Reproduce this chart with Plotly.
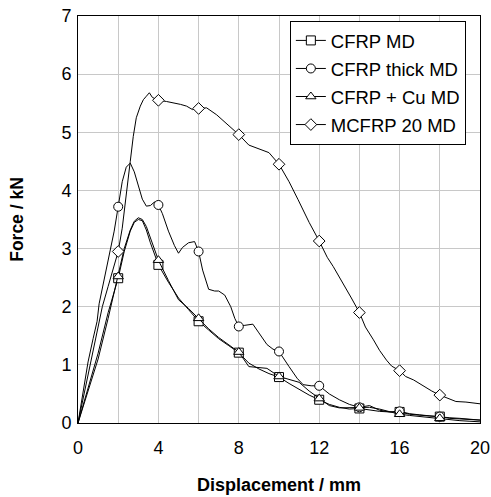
import plotly.graph_objects as go

# ---- data ----
series_names = ["CFRP MD", "CFRP thick MD", "CFRP + Cu MD", "MCFRP 20 MD"]
series_symbols = ["square-open", "circle-open", "triangle-up-open", "diamond-open"]
marker_x = [2, 4, 6, 8, 10, 12, 14, 16, 18]

cfrp_md_x = [0, 0.5, 1, 1.5, 2, 2.3, 2.6, 2.8, 3.0, 3.2, 3.4, 3.6, 3.8, 4, 4.5, 5, 5.5, 6, 6.5, 7, 7.5,
             8, 8.5, 9, 9.5, 10, 10.5, 11, 11.5, 12, 12.5, 13, 13.5, 14, 14.5, 15, 15.5, 16, 16.5, 17,
             17.5, 18, 18.5, 19, 19.5, 20]
cfrp_md_y = [0, 0.6, 1.2, 1.9, 2.49, 2.95, 3.3, 3.45, 3.5, 3.48, 3.32, 3.1, 2.92, 2.72, 2.42, 2.15, 1.95,
             1.75, 1.6, 1.45, 1.33, 1.21, 1.03, 0.93, 0.85, 0.79, 0.68, 0.58, 0.48, 0.4, 0.32, 0.27, 0.24,
             0.25, 0.22, 0.2, 0.19, 0.19, 0.15, 0.13, 0.12, 0.11, 0.08, 0.07, 0.06, 0.05]

thick_md_x = [0, 0.25, 0.5, 0.75, 0.95, 1.05, 1.3, 1.6, 1.8, 2, 2.2, 2.4, 2.6, 2.8, 3.0, 3.2, 3.4, 3.6,
              3.8, 4, 4.2, 4.5, 4.8, 5.0, 5.2, 5.5, 5.8, 6, 6.2, 6.5, 6.8, 7, 7.3, 7.6, 7.8, 8, 8.3, 8.7,
              9, 9.4, 9.7, 10, 10.5, 10.9, 11.2, 11.6, 12, 12.5, 13, 13.5, 14, 14.5, 15, 15.5, 16, 16.5,
              17, 17.5, 18, 18.5, 19, 19.5, 20]
thick_md_y = [0, 0.55, 1.05, 1.45, 1.75, 2.05, 2.45, 2.95, 3.3, 3.72, 4.15, 4.4, 4.47, 4.32, 4.1, 3.85,
              3.73, 3.74, 3.8, 3.75, 3.6, 3.3, 3.05, 2.92, 3.02, 3.1, 3.12, 2.95, 2.63, 2.3, 2.27, 2.27,
              2.2, 2.0, 1.8, 1.66, 1.68, 1.7, 1.55, 1.35, 1.27, 1.23, 0.97, 0.77, 0.66, 0.64, 0.64, 0.5,
              0.4, 0.32, 0.27, 0.3, 0.22, 0.19, 0.2, 0.16, 0.14, 0.12, 0.11, 0.09, 0.08, 0.06, 0.05]

cu_md_x = [0, 0.5, 1, 1.5, 2, 2.3, 2.6, 2.8, 3.0, 3.2, 3.4, 3.6, 3.8, 4, 4.5, 5, 5.5, 6, 6.5, 7, 7.5, 8,
           8.5, 9, 9.4, 10, 10.5, 11, 11.5, 12, 12.5, 13, 13.5, 14, 14.5, 15, 15.5, 16, 16.5, 17, 17.5,
           18, 18.5, 19, 19.5, 20]
cu_md_y = [0, 0.55, 1.1, 1.8, 2.52, 3.0, 3.32, 3.47, 3.53, 3.5, 3.38, 3.18, 3.0, 2.8, 2.45, 2.12, 1.97,
           1.8, 1.62, 1.47, 1.35, 1.22, 0.97, 0.95, 0.94, 0.8, 0.75, 0.7, 0.55, 0.42, 0.3, 0.26, 0.26,
           0.26, 0.27, 0.24, 0.2, 0.15, 0.13, 0.11, 0.1, 0.08, 0.06, 0.04, 0.03, 0.02]

mcfrp_md_x = [0, 0.3, 0.63, 0.9, 1.21, 1.5, 1.75, 2, 2.2, 2.35, 2.5, 2.6, 2.75, 2.9, 3.1, 3.25, 3.4, 3.55,
              3.7, 4, 4.4, 4.75, 5.1, 5.4, 5.7, 6, 6.4, 6.9, 7.4, 8, 8.5, 9, 9.5, 10, 10.5, 10.95, 11.5,
              12, 12.4, 12.7, 13.2, 13.6, 14, 14.3, 14.7, 15, 15.35, 15.6, 16, 16.3, 16.7, 17.2, 17.6,
              18, 18.4, 18.8, 19.3, 19.7, 20]
mcfrp_md_y = [0, 0.5, 1.0, 1.5, 2.0, 2.35, 2.65, 2.95, 3.35, 3.75, 4.2, 4.5, 4.93, 5.25, 5.45, 5.56, 5.62,
              5.68, 5.6, 5.55, 5.53, 5.51, 5.48, 5.45, 5.39, 5.41, 5.42, 5.3, 5.15, 4.96, 4.78, 4.72,
              4.65, 4.45, 4.15, 3.84, 3.45, 3.13, 2.85, 2.69, 2.4, 2.15, 1.9, 1.65, 1.43, 1.25, 1.08,
              0.98, 0.9, 0.8, 0.74, 0.63, 0.55, 0.48, 0.42, 0.37, 0.36, 0.35, 0.33]

x_tickvals = [0, 4, 8, 12, 16, 20]
y_tickvals = [0, 1, 2, 3, 4, 5, 6, 7]

all_x = [cfrp_md_x, thick_md_x, cu_md_x, mcfrp_md_x]
all_y = [cfrp_md_y, thick_md_y, cu_md_y, mcfrp_md_y]

FONT = "Arial, Liberation Sans, sans-serif"

fig = go.Figure()
for i, (name, sym, xs, ys) in enumerate(zip(series_names, series_symbols, all_x, all_y)):
    grp = "g%d" % i
    # curve
    fig.add_trace(go.Scatter(x=xs, y=ys, mode="lines", line=dict(color="black", width=1),
                             showlegend=False, hoverinfo="skip", legendgroup=grp))
    # markers at every 2 mm (points taken from the curve data)
    mx = [x for x in xs if x in marker_x]
    my = [y for x, y in zip(xs, ys) if x in marker_x]
    fig.add_trace(go.Scatter(x=mx, y=my, mode="markers",
                             marker=dict(symbol=sym.replace("-open", ""), size=9, color="white",
                                         line=dict(color="black", width=1)),
                             showlegend=False, legendgroup=grp))
    # legend entry
    fig.add_trace(go.Scatter(x=[None], y=[None], mode="lines+markers", name=name,
                             legendgroup=grp,
                             line=dict(color="black", width=1),
                             marker=dict(symbol=sym.replace("-open", ""), size=9, color="white",
                                         line=dict(color="black", width=1))))

fig.update_layout(
    width=491, height=497,
    margin=dict(l=78, r=11, t=16, b=74),
    paper_bgcolor="white", plot_bgcolor="white",
    font=dict(family=FONT, size=17.5, color="black"),
    legend=dict(x=0.527, y=0.988, xanchor="left", yanchor="top",
                bgcolor="white", bordercolor="black", borderwidth=1,
                traceorder="grouped", tracegroupgap=1,
                font=dict(family=FONT, size=18.5, color="black")),
    xaxis=dict(range=[0, 20], tickvals=x_tickvals,
               showgrid=True, gridcolor="#c8c8c8", gridwidth=1,
               showline=True, linecolor="black", linewidth=1, mirror=True,
               zeroline=False, ticks="", ticklabelstandoff=8, automargin=False,
               tickfont=dict(size=18),
               title=dict(text="<b>Displacement / mm</b>", font=dict(size=18), standoff=21)),
    yaxis=dict(range=[0, 7], tickvals=y_tickvals,
               showgrid=True, gridcolor="#c8c8c8", gridwidth=1,
               showline=True, linecolor="black", linewidth=1, mirror=True,
               zeroline=False, ticks="", ticklabelstandoff=2, automargin=False,
               tickfont=dict(size=18),
               title=dict(text="<b>Force / kN</b>", font=dict(size=17.5), standoff=33)),
)
# minor grid every 2 mm
fig.update_xaxes(minor=dict(dtick=2, showgrid=True, gridcolor="#c8c8c8", gridwidth=1, ticks=""))

fig.write_html("out.html", config={"displayModeBar": False},
               post_script="document.body.style.margin='0';document.body.style.overflow='hidden';")
